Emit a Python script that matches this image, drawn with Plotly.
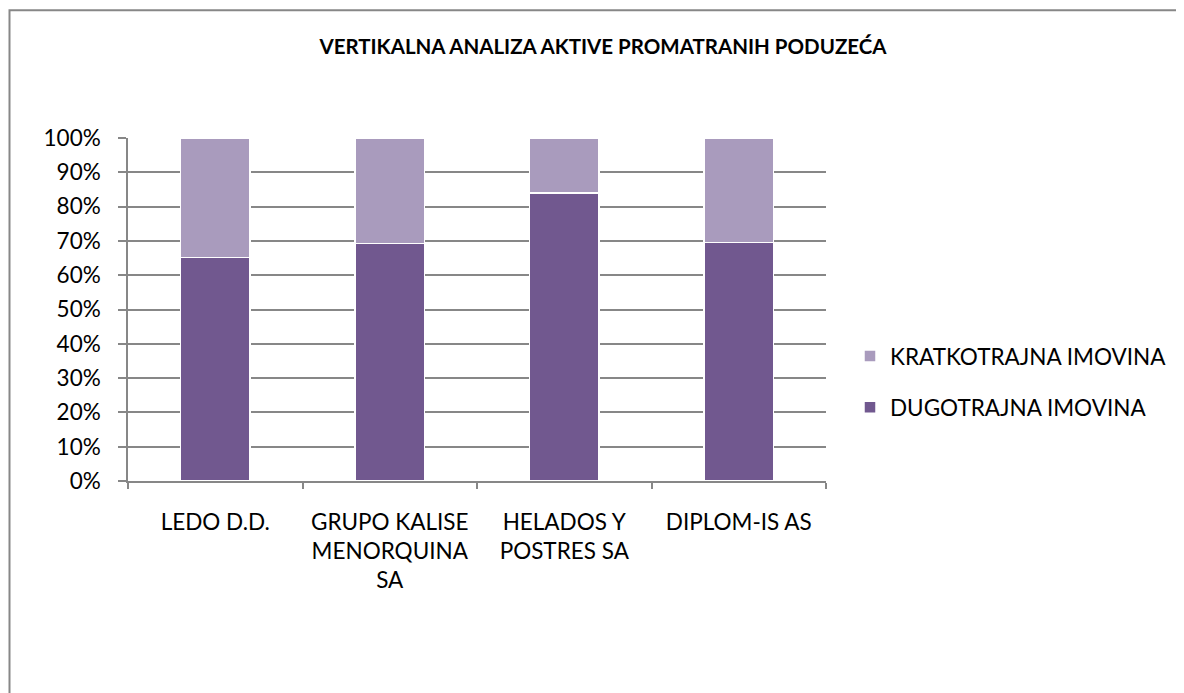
import plotly.graph_objects as go

categories = ["LEDO D.D.", "GRUPO KALISE<br>MENORQUINA<br>SA", "HELADOS Y<br>POSTRES SA", "DIPLOM-IS AS"]
dugotrajna = [0.652, 0.693, 0.840, 0.696]
kratkotrajna = [0.348, 0.307, 0.160, 0.304]
series_names = ["DUGOTRAJNA IMOVINA", "KRATKOTRAJNA IMOVINA"]
colors = ["#71588F", "#A99BBD"]
legend_ranks = [2, 1]

FONT = "Lato"
OFF = 8  # page body margin
W, H = 1184 - OFF, 693 - OFF
L, R, T, B = 128 - OFF, 826 - OFF, 137.5 - OFF, 481.5 - OFF

fig = go.Figure()
for i, (name, vals) in enumerate(zip(series_names, [dugotrajna, kratkotrajna])):
    fig.add_trace(go.Bar(
        x=categories, y=vals, name=name, legendgroup=name, legendrank=legend_ranks[i],
        marker=dict(color=colors[i], line=dict(color="white", width=1.5)),
    ))

pw, ph = R - L, B - T
def px_x(p):
    return (p - OFF - L) / pw
def px_y(p):
    return (B - (p - OFF)) / ph

fig.update_layout(
    width=W, height=H,
    barmode="stack", bargap=0.6,
    plot_bgcolor="white", paper_bgcolor="white",
    margin=dict(l=L, r=W - R, t=T, b=H - B, pad=0),
    font=dict(family=FONT, color="#000000", size=22),
    title=dict(text="<b>VERTIKALNA ANALIZA AKTIVE PROMATRANIH PODUZEĆA</b>",
               x=(603 - OFF) / W, xanchor="center", y=1 - (47 - OFF) / H, yanchor="middle",
               xref="container", yref="container",
               font=dict(family=FONT, size=20.5, color="#000000")),
    legend=dict(x=px_x(850), xanchor="left", y=px_y(382), yanchor="middle",
                traceorder="grouped", tracegroupgap=19,
                font=dict(family=FONT, size=22.5, color="#000000"),
                bgcolor="rgba(0,0,0,0)"),
    showlegend=True,
    shapes=[dict(type="rect", xref="paper", yref="paper",
                 x0=px_x(9.5), x1=px_x(1220), y0=px_y(740), y1=px_y(9.5),
                 line=dict(color="#878787", width=2), layer="below")],
)
fig.update_yaxes(range=[0, 1], dtick=0.1, tickformat=".0%",
                 showgrid=True, gridcolor="#878787", gridwidth=1.5,
                 showline=True, linecolor="#878787", linewidth=1.5,
                 ticks="outside", ticklen=8, tickcolor="#878787", tickwidth=1.5,
                 ticklabelstandoff=13, zeroline=False,
                 tickfont=dict(family=FONT, size=22.5, color="#000000"))
fig.update_xaxes(showline=True, linecolor="#878787", linewidth=1.5,
                 ticks="outside", ticklen=6, tickcolor="#878787", tickwidth=1.5,
                 tickson="boundaries", showgrid=False, ticklabelstandoff=20,
                 tickfont=dict(family=FONT, size=22.5, color="#000000"))

fig.write_html("out.html")
